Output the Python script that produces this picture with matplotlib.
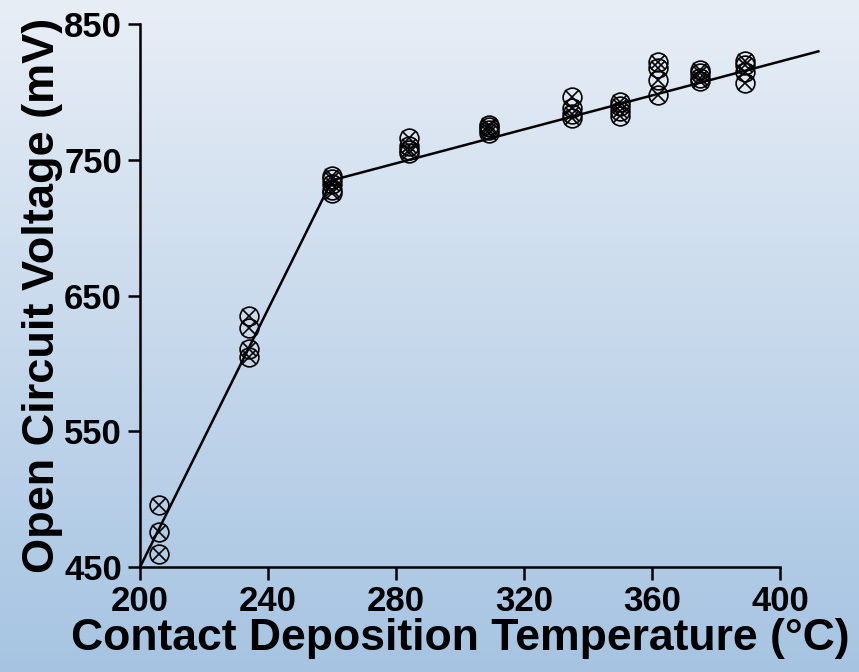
import numpy as np
import matplotlib
matplotlib.use("Agg")
from matplotlib import pyplot as plt

# measured temperatures (°C) and Voc values (mV)
temps = [206, 234, 260, 284, 309, 335, 350, 362, 375, 389]
voc = [
    [496, 476, 460],
    [635, 626, 611, 605],
    [738, 736, 732, 728, 726],
    [766, 760, 757, 755],
    [776, 774, 772, 770],
    [796, 788, 784, 781],
    [793, 790, 786, 782],
    [822, 818, 809, 798],
    [816, 814, 810, 808],
    [823, 820, 815, 807],
]

# piecewise trend line
line_x = [200, 260, 412]
line_y = [450, 735, 830]

x_ticks = [200, 240, 280, 320, 360, 400]
y_ticks = [450, 550, 650, 750, 850]

plt.rcParams['font.family'] = ['Liberation Sans', 'DejaVu Sans']
plt.rcParams['font.weight'] = 'bold'

fig = plt.figure(figsize=(8.59, 6.72), dpi=100)

# background gradient
bg = fig.add_axes([0, 0, 1, 1], zorder=-1)
top = np.array([232, 238, 246]) / 255
bot = np.array([166, 196, 226]) / 255
t = np.linspace(0, 1, 256)[:, None]
grad = top[None, :] * (1 - t) + bot[None, :] * t
bg.imshow(grad[:, None, :], aspect='auto', extent=[0, 1, 0, 1])
bg.axis('off')

ax = fig.add_axes([0.163, 0.156, 0.745, 0.808])
ax.patch.set_alpha(0)

for x, ys in zip(temps, voc):
    xs = [x] * len(ys)
    ax.plot(xs, ys, linestyle='none', marker='o', markersize=13.5, markerfacecolor='none',
            markeredgecolor='black', markeredgewidth=1.2, clip_on=False)
    ax.plot(xs, ys, linestyle='none', marker='x', markersize=9.5,
            markeredgecolor='black', markeredgewidth=1.2, clip_on=False)

ax.plot(line_x, line_y, color='black', linewidth=1.8, clip_on=False)

ax.set_xlim(200, 400)
ax.set_ylim(450, 850)
ax.set_xticks(x_ticks)
ax.set_yticks(y_ticks)
ax.spines['top'].set_visible(False)
ax.spines['right'].set_visible(False)
for s in ['left', 'bottom']:
    ax.spines[s].set_linewidth(1.8)
ax.tick_params(axis='both', length=9, width=1.8, labelsize=25, pad=4)
for lab in ax.get_xticklabels() + ax.get_yticklabels():
    lab.set_fontweight('bold')

ax.set_xlabel('Contact Deposition Temperature (°C)', fontsize=32, fontweight='bold', labelpad=0)
ax.set_ylabel('Open Circuit Voltage (mV)', fontsize=32.5, fontweight='bold', labelpad=1)

fig.savefig('out.png', dpi=100)
